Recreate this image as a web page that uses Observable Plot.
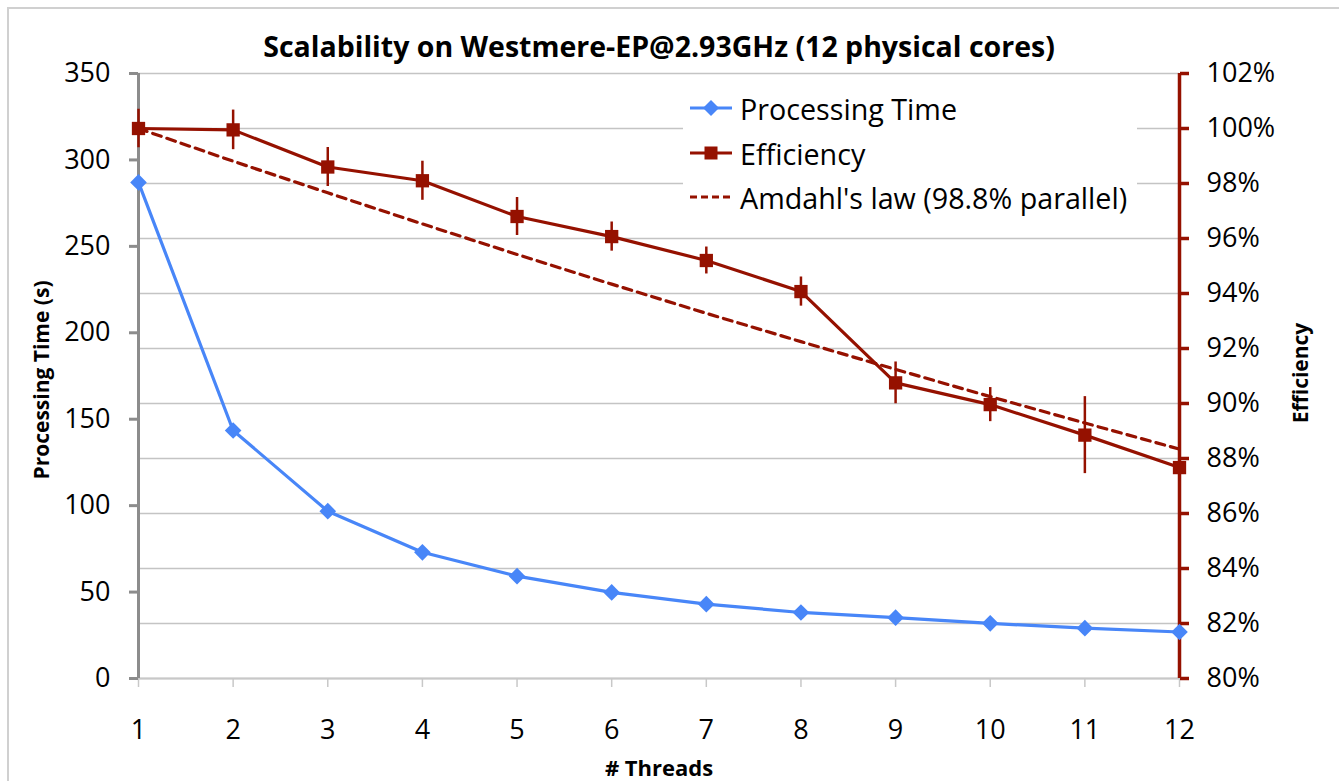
<!DOCTYPE html>
<html>
<head>
<meta charset="utf-8">
<script src="https://cdn.jsdelivr.net/npm/d3@7"></script>
<script src="https://cdn.jsdelivr.net/npm/@observablehq/plot@0.6"></script>
<style>
  html, body { margin: 0; padding: 0; background: #fff; }
  #wrap { position: relative; width: 1339px; height: 781px; overflow: hidden; font-family: "Open Sans", Lato, sans-serif; }
  #frame { position: absolute; left: 7px; top: 7px; width: 1400px; height: 900px; border-left: 2px solid #d0d0d0; border-top: 2px solid #d0d0d0; }
  #chart { position: absolute; left: 0; top: 0; }
  #legend { position: absolute; left: 683px; top: 88px; width: 454px; height: 130px; background: #fff; }
  .item { position: absolute; left: 6px; height: 40px; display: flex; align-items: center; font-size: 28.7px; color: #000; white-space: nowrap; }
  .item svg { margin-right: 7px; }
</style>
</head>
<body>
<div id="wrap">
  <div id="frame"></div>
  <div id="chart"></div>
  <div id="legend"></div>
</div>
<script>
// ---- data ----
const threads = [1, 2, 3, 4, 5, 6, 7, 8, 9, 10, 11, 12];
const processingTime = [287, 143.5, 96.8, 73, 59.2, 49.8, 43, 38.2, 35.2, 31.9, 29.1, 26.9];
const efficiency = [100, 99.95, 98.6, 98.1, 96.8, 96.07, 95.2, 94.07, 90.75, 89.96, 88.85, 87.67];
const efficiencyErr = [0.7, 0.72, 0.71, 0.71, 0.69, 0.53, 0.49, 0.53, 0.76, 0.62, 1.4, 0.5];
const amdahl = [100, 98.81, 97.66, 96.53, 95.42, 94.34, 93.28, 92.25, 91.24, 90.25, 89.29, 88.34];
const leftTicks = [0, 50, 100, 150, 200, 250, 300, 350];
const rightTicks = [80, 82, 84, 86, 88, 90, 92, 94, 96, 98, 100, 102];
const seriesNames = ["Processing Time", "Efficiency", "Amdahl's law (98.8% parallel)"];

const blue = "#4886f8";
const red = "#951100";
const axisGray = "#8c8c8c";
const gridGray = "#c4c4c4";
const font = "'Open Sans', Lato, sans-serif";

// efficiency (right axis, 80%..102%) mapped onto the left scale (0..350)
const effDomain = [80, 102];
const timeDomain = [0, 350];
const toLeft = (p) => (p - effDomain[0]) / (effDomain[1] - effDomain[0]) * (timeDomain[1] - timeDomain[0]) + timeDomain[0];
const fromLeft = (v) => (v - timeDomain[0]) / (timeDomain[1] - timeDomain[0]) * (effDomain[1] - effDomain[0]) + effDomain[0];

const timeData = threads.map((n, i) => ({n, t: processingTime[i]}));
const effData = threads.map((n, i) => ({n, e: efficiency[i], err: efficiencyErr[i]}));
const amdData = threads.map((n, i) => ({n, e: amdahl[i]}));

const chart = Plot.plot({
  width: 1339,
  height: 781,
  marginLeft: 138,
  marginRight: 160,
  marginTop: 73,
  marginBottom: 103,
  style: {fontFamily: font, fontSize: "27px", color: "#000", background: "transparent"},
  x: {domain: [1, 12], type: "linear"},
  y: {domain: timeDomain},
  marks: [
    Plot.gridY(rightTicks.map(toLeft), {stroke: gridGray, strokeOpacity: 1, strokeWidth: 1.3}),
    // x axis line + ticks
    Plot.ruleY([0], {stroke: "#c8c8c8", strokeWidth: 2}),
    Plot.axisX({ticks: threads, tickSize: 9, tickPadding: 32, stroke: "#c8c8c8", strokeWidth: 1.5, tickFormat: d => String(d), fontSize: 27, label: null}),
    // left axis
    Plot.ruleX([1], {stroke: axisGray, strokeWidth: 3}),
    Plot.axisY({anchor: "left", ticks: leftTicks, tickSize: 9, tickPadding: 19, stroke: axisGray, strokeWidth: 3, fontSize: 27, label: null}),
    // right axis
    Plot.ruleX([12], {stroke: red, strokeWidth: 3.5}),
    Plot.axisY({anchor: "right", ticks: rightTicks.map(toLeft), tickFormat: d => Math.round(fromLeft(d)) + "%", tickSize: 9, tickPadding: 18, stroke: red, strokeWidth: 3.5, fontSize: 27, label: null}),
    // Amdahl
    Plot.line(amdData, {x: "n", y: d => toLeft(d.e), stroke: red, strokeWidth: 3.2, strokeDasharray: "9,6"}),
    // efficiency
    Plot.ruleX(effData, {x: "n", y1: d => toLeft(d.e - d.err), y2: d => toLeft(d.e + d.err), stroke: red, strokeWidth: 2.5}),
    Plot.line(effData, {x: "n", y: d => toLeft(d.e), stroke: red, strokeWidth: 3.2}),
    Plot.dot(effData, {x: "n", y: d => toLeft(d.e), symbol: "square", r: 7.5, fill: red, stroke: null}),
    // processing time
    Plot.line(timeData, {x: "n", y: "t", stroke: blue, strokeWidth: 3.2}),
    Plot.dot(timeData, {x: "n", y: "t", symbol: "diamond2", r: 7.5, fill: blue, stroke: null}),
    // texts
    Plot.text(["Scalability on Westmere-EP@2.93GHz (12 physical cores)"], {frameAnchor: "top", dy: -37, fontWeight: "bold", fontSize: 28.5}),
    Plot.text(["Processing Time (s)"], {frameAnchor: "left", textAnchor: "middle", dx: -96, dy: 4, rotate: -90, fontWeight: "bold", fontSize: 21}),
    Plot.text(["Efficiency"], {frameAnchor: "right", textAnchor: "middle", dx: 122, dy: -3, rotate: -90, fontWeight: "bold", fontSize: 21}),
    Plot.text(["# Threads"], {frameAnchor: "bottom", dy: 97, fontWeight: "bold", fontSize: 22})
  ]
});
document.getElementById("chart").appendChild(chart);

// legend
const legend = document.getElementById("legend");
const swatches = [
  `<svg width="44" height="20"><line x1="1" y1="10" x2="43" y2="10" stroke="${blue}" stroke-width="3"/><path d="M22 2 L30 10 L22 18 L14 10 Z" fill="${blue}"/></svg>`,
  `<svg width="44" height="20"><line x1="1" y1="10" x2="43" y2="10" stroke="${red}" stroke-width="3"/><rect x="15.5" y="3.5" width="13" height="13" fill="${red}"/></svg>`,
  `<svg width="44" height="20"><line x1="1" y1="10" x2="43" y2="10" stroke="${red}" stroke-width="3" stroke-dasharray="7,4"/></svg>`
];
const tops = [0, 45, 89];
seriesNames.forEach((name, i) => {
  const div = document.createElement("div");
  div.className = "item";
  div.style.top = tops[i] + "px";
  div.innerHTML = swatches[i] + `<span>${name}</span>`;
  legend.appendChild(div);
});
</script>
</body>
</html>
